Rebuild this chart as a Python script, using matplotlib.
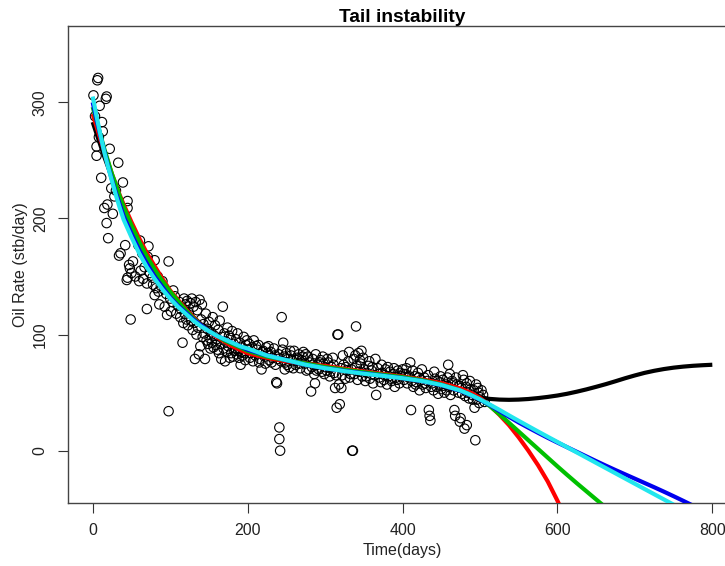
import matplotlib
matplotlib.use("Agg")
import matplotlib.pyplot as plt

plt.rcParams['font.family'] = ['Liberation Sans', 'DejaVu Sans']

time_days = [
    1, 6, 7, 17, 18, 9, 12, 13, 5, 5, 22, 33, 11, 39, 24, 45, 45, 15, 19, 26,
    18, 20, 42, 34, 36, 3, 28, 30, 8,
    48, 50, 44, 45, 52, 47, 59, 61, 64, 71, 72, 80, 98, 49, 70, 78, 80, 96, 98,
    55, 60, 65, 70, 77, 82, 85, 88, 92, 95, 100, 103, 106, 110, 62, 67, 74, 84,
    90, 86, 93, 101, 104, 108,
    112, 114, 116, 118, 120, 122, 124, 126, 128, 130, 132, 133, 135, 137, 138,
    139, 140, 141, 143, 145, 146, 148, 150, 152, 153, 155, 157, 158, 160, 162,
    164, 166, 167, 168, 170, 171, 172, 174, 175, 177, 178, 180, 182, 184, 185,
    187, 188, 190, 191, 193, 195, 196, 198, 200,
    113, 117, 119, 121, 123, 127, 129, 131, 134, 136, 142, 144, 147, 149, 151,
    154, 156, 159, 161, 163, 165, 169, 173, 176, 179, 181, 183, 186, 189, 192,
    194, 197, 199,
    202, 204, 206, 208, 210, 212, 214, 216, 218, 220, 222, 224, 226, 228, 230,
    232, 234, 236, 237, 238, 240, 241, 241, 242, 243, 244, 245, 246, 247, 248,
    249, 250, 252, 254, 256, 258, 260, 262, 264, 266, 268, 270, 272, 274, 276,
    278, 280, 282, 283, 284, 286, 287, 288, 290, 292, 294, 296, 298, 300,
    203, 207, 211, 215, 219, 223, 227, 231, 235, 239, 251, 255, 259, 263, 267,
    271, 275, 279, 285, 289, 293, 297, 299,
    302, 304, 306, 308, 310, 312, 313, 315, 316, 317, 318, 319, 320, 321, 322,
    324, 326, 328, 330, 332, 334, 335, 336, 338, 340, 341, 342, 344, 346, 348,
    350, 352, 354, 356, 358, 360, 362, 364, 366, 368, 370, 372, 374, 376, 378,
    380, 382, 384, 386, 388, 390, 392, 394, 396, 398, 400,
    303, 307, 311, 314, 323, 327, 331, 333, 337, 339, 343, 345, 347, 349, 353,
    357, 361, 365, 369, 373, 377, 381, 385, 389, 393, 397,
    402, 404, 406, 408, 410, 411, 412, 414, 416, 418, 420, 422, 424, 426, 428,
    430, 432, 434, 435, 436, 438, 440, 442, 444, 446, 448, 450, 452, 454, 456,
    458, 459, 460, 462, 464, 466, 467, 468, 470, 472, 474, 475, 476, 478, 479,
    480, 481, 482, 484, 486, 488, 490, 492, 493, 494, 496, 497, 498, 500, 502,
    504, 506,
    401, 405, 409, 413, 417, 421, 425, 429, 433, 437, 441, 445, 449, 453, 457,
    461, 465, 469, 473, 477, 483, 487, 491, 495, 499, 483,
]
oil_rate = [
    306, 319, 321, 303, 305, 297, 283, 275, 262, 254, 260, 248, 235, 231, 226,
    215, 209, 209, 212, 204, 196, 183, 177, 168, 170, 288, 219, 224, 270,
    157, 153, 147, 149, 163, 160, 177, 181, 170, 167, 176, 164, 163, 113, 122,
    143, 134, 117, 34, 150, 146, 148, 144, 149, 140, 137, 142, 139, 135, 131,
    128, 133, 125, 155, 158, 153, 150, 146, 126, 124, 120, 138, 118,
    128, 122, 93, 131, 126, 129, 119, 127, 131, 124, 79, 128, 121, 83, 130, 90,
    113, 126, 109, 79, 118, 105, 111, 88, 102, 115, 99, 108, 96, 104, 112, 79,
    98, 124, 101, 77, 94, 106, 90, 80, 97, 103, 92, 88, 96, 101, 86, 93, 74,
    89, 98, 84, 91, 87,
    115, 110, 118, 113, 108, 112, 104, 110, 100, 106, 98, 101, 95, 92, 97, 93,
    89, 91, 87, 84, 92, 88, 85, 99, 84, 81, 86, 83, 80, 85, 82, 78, 95,
    92, 84, 89, 95, 82, 87, 91, 79, 70, 86, 81, 89, 84, 78, 85, 80, 88, 74, 59,
    58, 83, 20, 10, 0, 77, 115, 87, 93, 81, 70, 76, 84, 79, 72, 82, 77, 86, 74,
    80, 83, 71, 78, 85, 75, 69, 81, 76, 51, 72, 79, 66, 58, 83, 74, 70, 78, 68,
    75, 72,
    80, 77, 90, 76, 85, 75, 90, 76, 82, 79, 74, 86, 71, 78, 75, 81, 83, 70, 74,
    69, 76, 81, 66,
    69, 76, 64, 72, 80, 67, 54, 37, 100, 100, 57, 40, 71, 54, 65, 74, 62, 69,
    77, 63, 70, 0, 0, 66, 107, 73, 61, 68, 75, 64, 70, 60, 67, 73, 62, 69, 58,
    65, 48, 71, 63, 59, 67, 61, 70, 57, 64, 68, 60, 66, 55, 63, 69, 58, 64, 70,
    79, 68, 74, 65, 82, 72, 85, 66, 79, 82, 84, 78, 86, 80, 64, 77, 72, 79, 66,
    74, 65, 72, 62, 71, 61, 67,
    61, 66, 58, 63, 76, 35, 60, 55, 64, 59, 67, 52, 61, 57, 63, 54, 60, 35, 30,
    26, 58, 52, 62, 55, 49, 59, 53, 61, 50, 57, 63, 74, 55, 48, 60, 52, 35, 30,
    57, 50, 25, 28, 54, 65, 61, 19, 47, 55, 50, 45, 53, 48, 52, 37, 9, 44, 54,
    50, 46, 52, 48, 42,
    66, 71, 64, 69, 57, 63, 70, 58, 65, 55, 68, 60, 64, 56, 52, 66, 58, 63, 56,
    49, 58, 60, 44, 57, 41, 22,
]

# ---- fitted decline curves ----
t_head = [0, 5, 10, 15, 20, 25, 30, 35, 40, 50, 60, 70, 80, 90, 100, 110,
          120, 130, 140, 150, 160, 170, 180, 190, 200, 225, 250, 275, 300,
          325, 350, 375, 400, 425, 450, 475, 487.5, 500]

t_black = t_head + [512.5, 525, 537.5, 550, 562.5, 575, 587.5, 600, 612.5,
                    625, 637.5, 650, 662.5, 675, 687.5, 700, 712.5, 725,
                    737.5, 750, 762.5, 775, 787.5, 800]
q_black = [283, 273, 263, 253, 244, 235, 226, 217, 209, 194, 180, 167, 156,
           146, 137, 129, 122, 115, 109, 104, 99, 95, 91, 88, 85, 80, 77, 74,
           72, 69.5, 67.3, 65.2, 63, 60.3, 56.8, 51.5, 48.5, 46,
           44.6, 44, 43.8, 44, 44.5, 45.3, 46.3, 47.5, 49, 50.8, 52.8, 55,
           57.3, 59.8, 62.4, 64.8, 67, 68.8, 70.3, 71.5, 72.4, 73.1, 73.6, 74]

t_red = t_head + [512.5, 525, 537.5, 550, 562.5, 575, 587.5, 600, 612.5]
q_red = [290, 279, 268, 258, 248, 238, 229, 220, 212, 197, 183, 170, 159, 148,
         138, 130, 122, 115, 108, 103, 98, 94, 90, 87, 84, 80, 77, 75, 73,
         70.5, 68.2, 66, 63.8, 61.3, 58.2, 53.5, 50, 45.5,
         39, 31, 22, 11.5, 0, -12.5, -26.5, -43, -61]

t_green = t_head + [512.5, 525, 537.5, 550, 562.5, 575, 587.5, 600, 612.5,
                    625, 637.5, 650, 662.5, 675]
q_green = [296, 284, 272, 260, 249, 238, 229, 219, 210, 194, 180, 167, 156,
           146, 137, 129, 121, 114, 108, 103, 99, 95, 92, 89, 86, 81, 78, 75,
           72, 69.8, 67.5, 65.4, 63.3, 60.7, 57, 51.8, 48.3, 44.2,
           38.5, 31.5, 24, 16.5, 9, 1.5, -6, -13.5, -20.8, -28, -35, -42, -49,
           -56]

t_blue = t_head + [512.5, 525, 537.5, 550, 562.5, 575, 587.5, 600, 612.5,
                   625, 637.5, 650, 662.5, 675, 687.5, 700, 712.5, 725,
                   737.5, 750, 762.5, 775]
q_blue = [300, 285, 271, 258, 245, 233, 222, 212, 202, 187, 173, 161, 150,
          141, 132, 125, 119, 113, 108, 103, 99, 96, 93, 90, 87, 82, 78, 74,
          71, 68.8, 66.6, 64.6, 62.5, 60, 56.5, 51.5, 48, 44,
          39.3, 34.2, 29.2, 24.3, 19.8, 15.4, 11.1, 7, 3, -1, -5, -9, -12.9,
          -16.7, -20.4, -24.1, -27.8, -31.5, -35.3, -39.2, -43.2, -47.3]

t_cyan = t_head + [512.5, 525, 537.5, 550, 562.5, 575, 587.5, 600, 612.5,
                   625, 637.5, 650, 662.5, 675, 687.5, 700, 712.5, 725,
                   737.5, 750]
q_cyan = [305, 288, 272, 257, 244, 232, 220, 209, 199, 184, 170, 158, 148,
          139, 131, 124, 118, 112, 107, 103, 99, 96, 93, 90, 88, 82, 78, 74,
          71, 68.5, 66.3, 64.4, 62.4, 60, 56.6, 51.8, 48.2, 44.2,
          39.8, 35.2, 30.4, 25.7, 21.1, 16.5, 12, 7.5, 3, -1.5, -6, -10.5,
          -15, -19.5, -24, -28.5, -33, -37.5, -42, -46.5]

x_ticks = [0, 200, 400, 600, 800]
y_ticks = [0, 100, 200, 300]

# ---- figure ----
W, H = 725, 566
fig = plt.figure(figsize=(W / 100, H / 100), dpi=100)
ax_left, ax_right = 67.9, 737.1
ax_top, ax_bottom = 25.7, 502.7
ax = fig.add_axes([ax_left / W, 1 - ax_bottom / H,
                   (ax_right - ax_left) / W, (ax_bottom - ax_top) / H])

ax.scatter(time_days, oil_rate, s=46, facecolors='none', edgecolors='black',
           linewidths=0.8, zorder=2)

for t, q, c in [(t_black, q_black, 'black'), (t_red, q_red, '#ff0000'),
                (t_green, q_green, '#00c000'), (t_blue, q_blue, '#0000ee'),
                (t_cyan, q_cyan, '#22e6ee')]:
    ax.plot(t, q, color=c, lw=3.0, solid_capstyle='butt',
            solid_joinstyle='round', zorder=3)

ax.set_xlim(-32, 832)
ax.set_ylim(-44.8, 366)
ax.set_xticks(x_ticks)
ax.set_yticks(y_ticks)
ax.tick_params(axis='both', direction='out', length=7, width=0.8,
               color='#333333', labelsize=11.5, pad=7.5, labelcolor='#222222')
for lab in ax.get_yticklabels():
    lab.set_rotation(90)
    lab.set_va('center')

for side in ['top', 'left', 'bottom', 'right']:
    ax.spines[side].set_color('#444444')
    ax.spines[side].set_linewidth(1.0)

ax.set_title('Tail instability', fontsize=13.8, fontweight='bold', pad=1.5)
ax.set_xlabel('Time(days)', fontsize=11.5, color='#222222')
ax.set_ylabel('Oil Rate (stb/day)', fontsize=11.5, color='#222222')
ax.xaxis.set_label_coords(0.5, (ax_bottom - 543.5) / (ax_bottom - ax_top))
ax.yaxis.set_label_coords((28.5 - ax_left) / (ax_right - ax_left), 0.5)

fig.savefig('out.png', dpi=100)
